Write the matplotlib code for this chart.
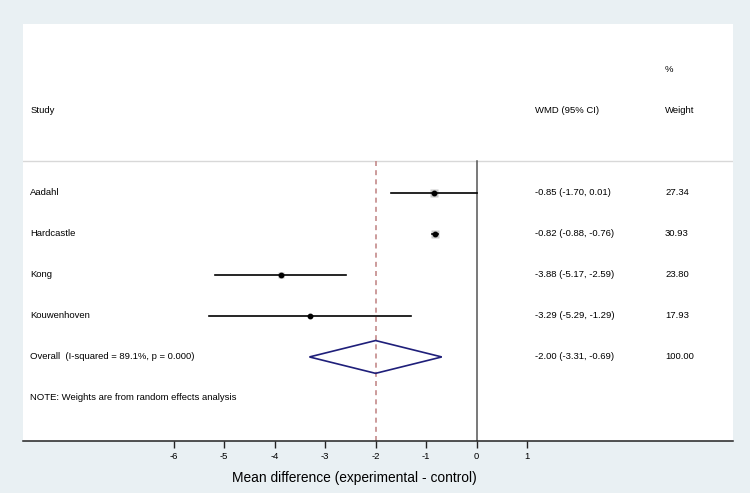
import matplotlib.pyplot as plt
from matplotlib.patches import Polygon

plt.rcParams['font.family'] = ['Liberation Sans', 'DejaVu Sans']

studies = ['Aadahl', 'Hardcastle', 'Kong', 'Kouwenhoven']
wmd = [-0.85, -0.82, -3.88, -3.29]
lo = [-1.70, -0.88, -5.17, -5.29]
hi = [0.01, -0.76, -2.59, -1.29]
weight = [27.34, 30.93, 23.80, 17.93]

overall = -2.00
overall_lo = -3.31
overall_hi = -0.69
overall_label = 'Overall  (I-squared = 89.1%, p = 0.000)'
note = 'NOTE: Weights are from random effects analysis'
xticks = [-6, -5, -4, -3, -2, -1, 0, 1]

bg = '#e9f0f3'
fig = plt.figure(figsize=(7.5, 4.93), dpi=100, facecolor=bg)
# white plot region: x 23..733 px, y 24..441 px
ax = fig.add_axes([23 / 750, 1 - 441 / 493, 710 / 750, 417 / 493])
ax.set_facecolor('white')

ax.set_xlim(-8.98, 5.075)
ax.set_ylim(7.05, -3.12)

col_study = -8.84
col_wmd = 1.154
col_w = 3.73
fs = 6.8

# header
ax.text(col_study, -1.02, 'Study', fontsize=fs, va='center')
ax.text(col_wmd, -1.02, 'WMD (95% CI)', fontsize=fs, va='center')
ax.text(col_w, -2.02, '%', fontsize=fs, va='center')
ax.text(col_w, -1.02, 'Weight', fontsize=fs, va='center')
ax.axhline(0.22, color='#d8d8d8', lw=1)

# reference lines
ax.plot([0, 0], [0.22, 7.05], color='#555555', lw=1.1)
ax.plot([overall, overall], [0.22, 7.05], color='#c48a8a', lw=1.2, ls=(0, (3, 2.5)))

for i, s in enumerate(studies):
    y = i + 1
    ax.plot([lo[i], hi[i]], [y, y], color='black', lw=1.2, zorder=3)
    ax.plot(wmd[i], y, marker='s', ms=weight[i] / 5.0, color='#c8c8c8', mec='none', zorder=2)
    ax.plot(wmd[i], y, marker='o', ms=3.2, color='black', zorder=4)
    ax.text(col_study, y, s, fontsize=fs, va='center')
    ax.text(col_wmd, y, '%.2f (%.2f, %.2f)' % (wmd[i], lo[i], hi[i]), fontsize=fs, va='center')
    ax.text(col_w, y, '%.2f' % weight[i], fontsize=fs, va='center')

yo = 5
dia = Polygon([[overall_lo, yo], [overall, yo - 0.4], [overall_hi, yo], [overall, yo + 0.4]],
              closed=True, fill=False, edgecolor='#1f1f7a', lw=1.2, zorder=5)
ax.add_patch(dia)
ax.text(col_study, yo, overall_label, fontsize=fs, va='center')
ax.text(col_wmd, yo, '%.2f (%.2f, %.2f)' % (overall, overall_lo, overall_hi), fontsize=fs, va='center')
ax.text(col_w, yo, '100.00', fontsize=fs, va='center')

ax.text(col_study, 6, note, fontsize=fs, va='center')

for sp in ['top', 'left', 'right']:
    ax.spines[sp].set_visible(False)
ax.spines['bottom'].set_color('#222222')
ax.spines['bottom'].set_linewidth(1.1)
ax.set_yticks([])
ax.set_xticks(xticks)
ax.set_xticklabels([str(t) for t in xticks], fontsize=fs)
ax.tick_params(axis='x', length=5, width=1, color='#222222', pad=3)
ax.set_xlabel('Mean difference (experimental - control)', fontsize=9.9)
ax.xaxis.set_label_coords((354 - 23) / 710, -(478 - 441) / 417, transform=ax.transAxes)
ax.xaxis.label.set_va('center')

fig.savefig('out.png', dpi=100, facecolor=bg)
